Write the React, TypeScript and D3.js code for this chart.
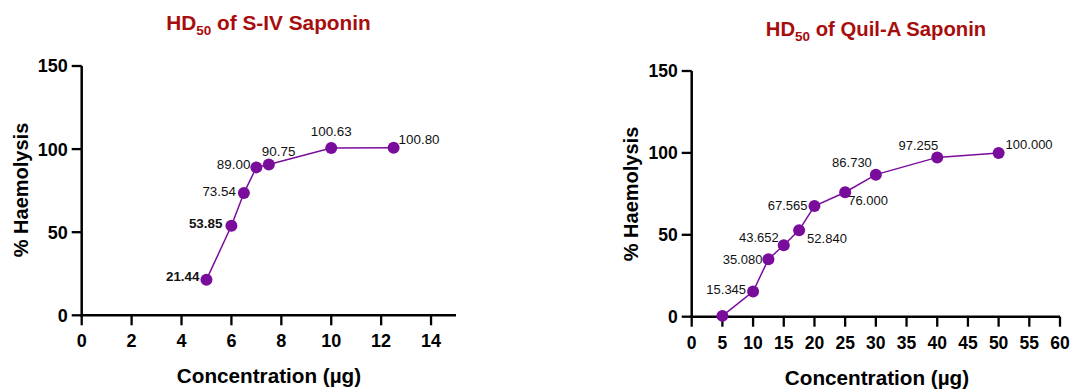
import React from "react";
import * as d3 from "d3";

// ---- Data ----
const sivConc = [5, 6, 6.5, 7, 7.5, 10, 12.5];
const sivHaem = [21.44, 53.85, 73.54, 89.0, 90.75, 100.63, 100.8];
const sivLabels = ["21.44", "53.85", "73.54", "89.00", "90.75", "100.63", "100.80"];

const quilConc = [5, 10, 12.5, 15, 17.5, 20, 25, 30, 40, 50];
const quilHaem = [0.5, 15.345, 35.08, 43.652, 52.84, 67.565, 76.0, 86.73, 97.255, 100.0];
const quilLabels = ["", "15.345", "35.080", "43.652", "52.840", "67.565", "76.000", "86.730", "97.255", "100.000"];

const sivXTicks = [0, 2, 4, 6, 8, 10, 12, 14];
const quilXTicks = [0, 5, 10, 15, 20, 25, 30, 35, 40, 45, 50, 55, 60];
const yTicks = [0, 50, 100, 150];

// ---- Label placement (layout, not data) ----
type Place = { dx: number; dy: number; anchor: "start" | "middle" | "end"; bold?: boolean };
const sivPlace: Place[] = [
  { dx: -7, dy: -3, anchor: "end", bold: true },
  { dx: -9, dy: -3, anchor: "end", bold: true },
  { dx: -8, dy: -2, anchor: "end" },
  { dx: -6, dy: -3, anchor: "end" },
  { dx: -7, dy: -13, anchor: "start" },
  { dx: 0, dy: -17, anchor: "middle" },
  { dx: 5, dy: -9, anchor: "start" },
];
const quilPlace: Place[] = [
  { dx: 0, dy: 0, anchor: "end" },
  { dx: -7, dy: -2, anchor: "end" },
  { dx: -6, dy: 0, anchor: "end" },
  { dx: -5, dy: -8, anchor: "end" },
  { dx: 8, dy: 8, anchor: "start" },
  { dx: -7, dy: -1, anchor: "end" },
  { dx: 3, dy: 8, anchor: "start" },
  { dx: -4, dy: -12, anchor: "end" },
  { dx: 1, dy: -12, anchor: "end" },
  { dx: 7, dy: -9, anchor: "start" },
];

const PURPLE = "#7a0c9c";
const TITLE_RED = "#a80d0d";
const FONT = "'Liberation Sans', Arial, Helvetica, sans-serif";

type PanelProps = {
  conc: number[];
  haem: number[];
  labels: string[];
  place: Place[];
  xTicks: number[];
  xMax: number;
  x0: number;
  x1: number;
  y0: number;
  y1: number;
  title: string;
  titleX: number;
  titleY: number;
  titleFont: number;
  xTitleX: number;
  xTitleY: number;
  yTitleX: number;
  yTitleY: number;
  tickFont: number;
  labelFont: number;
};

function Panel(p: PanelProps) {
  const x = d3.scaleLinear().domain([0, p.xMax]).range([p.x0, p.x1]);
  const y = d3.scaleLinear().domain([0, 150]).range([p.y0, p.y1]);
  const pts = p.conc.map((c, i) => [x(c), y(p.haem[i])] as [number, number]);
  const line = d3.line()(pts) || "";
  const tickLen = 10;
  return (
    <g fontFamily={FONT}>
      {/* title */}
      <text x={p.titleX} y={p.titleY} textAnchor="middle" fontSize={p.titleFont} fontWeight="bold" fill={TITLE_RED}>
        HD
        <tspan fontSize={13.5} dy={5}>50</tspan>
        <tspan dy={-5}>{" of " + p.title}</tspan>
      </text>
      {/* axes */}
      <line x1={p.x0} x2={p.x0} y1={p.y0 + 1.2} y2={p.y1} stroke="#000" strokeWidth={2.5} />
      <line x1={p.x0 - 1.2} x2={p.x1} y1={p.y0} y2={p.y0} stroke="#000" strokeWidth={2.5} />
      {yTicks.map((t) => (
        <g key={"y" + t}>
          <line x1={p.x0 - tickLen} x2={p.x0} y1={y(t)} y2={y(t)} stroke="#000" strokeWidth={2.3} />
          <text x={p.x0 - tickLen - 4} y={y(t) + p.tickFont * 0.36} textAnchor="end" fontSize={p.tickFont} fontWeight="bold" fill="#000">
            {t}
          </text>
        </g>
      ))}
      {p.xTicks.map((t) => (
        <g key={"x" + t}>
          <line x1={x(t)} x2={x(t)} y1={p.y0} y2={p.y0 + tickLen} stroke="#000" strokeWidth={2.3} />
          <text x={x(t)} y={p.y0 + 32} textAnchor="middle" fontSize={p.tickFont} fontWeight="bold" fill="#000">
            {t}
          </text>
        </g>
      ))}
      {/* axis titles */}
      <text x={p.xTitleX} y={p.xTitleY} textAnchor="middle" fontSize={20.7} fontWeight="bold" fill="#000">
        Concentration (µg)
      </text>
      <text
        transform={`translate(${p.yTitleX},${p.yTitleY}) rotate(-90)`}
        textAnchor="middle"
        fontSize={20}
        fontWeight="bold"
        fill="#000"
      >
        % Haemolysis
      </text>
      {/* series */}
      <path d={line} fill="none" stroke={PURPLE} strokeWidth={1.5} />
      {pts.map(([cx, cy], i) => (
        <circle key={"c" + i} cx={cx} cy={cy} r={6} fill={PURPLE} />
      ))}
      {pts.map(([cx, cy], i) => {
        const pl = p.place[i];
        if (!p.labels[i]) return null;
        return (
          <text
            key={"l" + i}
            x={cx + pl.dx}
            y={cy + pl.dy + p.labelFont * 0.36}
            textAnchor={pl.anchor}
            fontSize={p.labelFont}
            fontWeight={pl.bold ? "bold" : "normal"}
            fill="#111"
          >
            {p.labels[i]}
          </text>
        );
      })}
    </g>
  );
}

export default function App() {
  return (
    <svg
      width={1072}
      height={389}
      style={{ position: "absolute", left: 0, top: 0, background: "#fff" }}
    >
      <rect width={1072} height={389} fill="#fff" />
      <Panel
        conc={sivConc}
        haem={sivHaem}
        labels={sivLabels}
        place={sivPlace}
        xTicks={sivXTicks}
        xMax={15}
        x0={81.7}
        x1={456}
        y0={315.3}
        y1={66}
        title="S-IV Saponin"
        titleX={268.5}
        titleY={30}
        titleFont={20.8}
        xTitleX={269}
        xTitleY={383}
        yTitleX={27.5}
        yTitleY={190}
        tickFont={18}
        labelFont={13.4}
      />
      <Panel
        conc={quilConc}
        haem={quilHaem}
        labels={quilLabels}
        place={quilPlace}
        xTicks={quilXTicks}
        xMax={60}
        x0={691.7}
        x1={1060}
        y0={316.7}
        y1={71}
        title="Quil-A Saponin"
        titleX={876}
        titleY={36}
        titleFont={20.3}
        xTitleX={877}
        xTitleY={385}
        yTitleX={638}
        yTitleY={194}
        tickFont={17.5}
        labelFont={13}
      />
    </svg>
  );
}
